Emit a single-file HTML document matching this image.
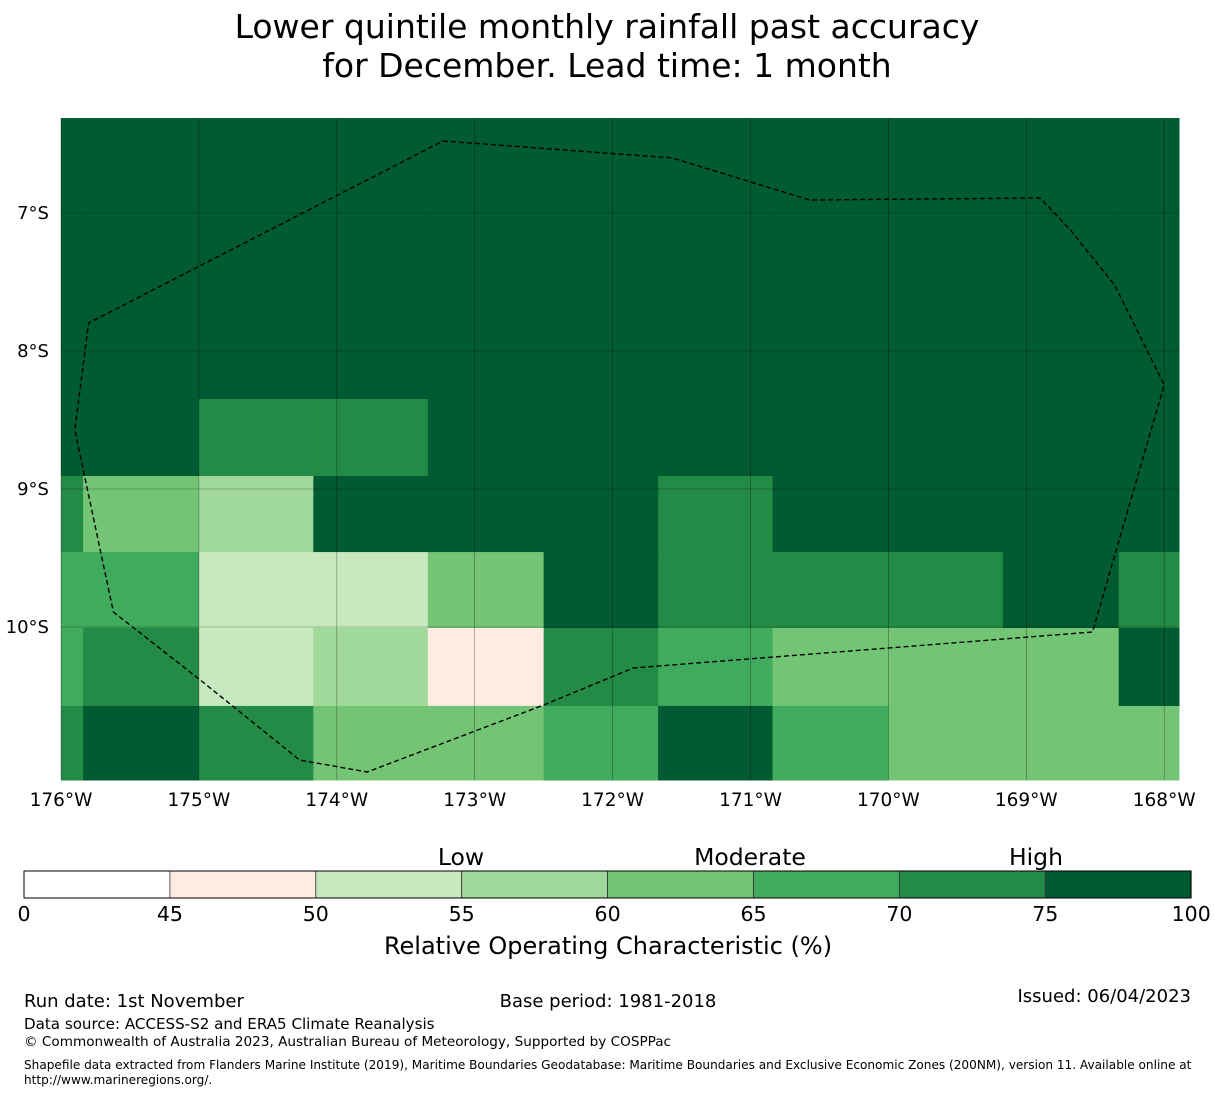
<!DOCTYPE html>
<html><head><meta charset="utf-8"><style>
html,body{margin:0;padding:0;background:#fff}
body{width:1215px;height:1095px;overflow:hidden;font-family:"DejaVu Sans","Liberation Sans",sans-serif}
svg text{font-family:"DejaVu Sans","Liberation Sans",sans-serif}
</style></head><body>
<svg id="chart" width="1215" height="1095" xmlns="http://www.w3.org/2000/svg">
<text x="607" y="38" font-size="33" text-anchor="middle">Lower quintile monthly rainfall past accuracy</text>
<text x="607" y="77" font-size="33" text-anchor="middle">for December. Lead time: 1 month</text>
<g id="cells"></g>
<g id="grid"></g>
<g id="eez"></g>
<g id="axes"></g>
<g id="cbar"></g>
<text x="461" y="865" font-size="23.5" text-anchor="middle">Low</text>
<text x="750" y="865" font-size="23.5" text-anchor="middle">Moderate</text>
<text x="1036" y="865" font-size="23.5" text-anchor="middle">High</text>
<text x="608" y="954" font-size="24" text-anchor="middle">Relative Operating Characteristic (%)</text>
<text x="24" y="1007" font-size="18">Run date: 1st November</text>
<text x="608" y="1007" font-size="18" text-anchor="middle">Base period: 1981-2018</text>
<text x="1191" y="1002" font-size="18" text-anchor="end">Issued: 06/04/2023</text>
<text x="24" y="1029" font-size="15.1">Data source: ACCESS-S2 and ERA5 Climate Reanalysis</text>
<text x="24" y="1046" font-size="13.6">© Commonwealth of Australia 2023, Australian Bureau of Meteorology, Supported by COSPPac</text>
<text x="24" y="1069" font-size="12.1">Shapefile data extracted from Flanders Marine Institute (2019), Maritime Boundaries Geodatabase: Maritime Boundaries and Exclusive Economic Zones (200NM), version 11. Available online at</text>
<text x="24" y="1084" font-size="12.1">http://www.marineregions.org/.</text>
</svg>
<script>
const lonEdges=[-176,-175.84,-175.0,-174.17,-173.34,-172.5,-171.67,-170.84,-170.0,-169.17,-168.33,-167.89];
const latEdges=[6.31,8.348,8.906,9.457,10.007,10.572,11.11];
const cellLevels=[
[7,7,7,7,7,7,7,7,7,7,7],
[7,7,6,6,7,7,7,7,7,7,7],
[6,4,3,7,7,7,6,7,7,7,7],
[5,5,2,2,4,7,6,6,6,7,6],
[5,6,2,3,1,6,5,4,4,4,7],
[6,7,6,4,4,5,7,5,4,4,4]];
const levelColors=['#ffffff','#feebe2','#c7e9c0','#a1d99b','#74c476','#41ab5d','#238b45','#005a32'];
const cbarBounds=[0,45,50,55,60,65,70,75,100];
const lonTicks=[-176,-175,-174,-173,-172,-171,-170,-169,-168];
const latTicks=[7,8,9,10];
const eezLon=[-173.23,-171.57,-170.57,-168.90,-168.68,-168.36,-168.00,-168.52,-171.85,-172.50,-173.78,-174.27,-174.99,-175.62,-175.90,-175.80];
const eezLat=[6.478,6.601,6.906,6.891,7.123,7.522,8.246,10.036,10.297,10.565,11.051,10.964,10.384,9.891,8.572,7.797];
const NS='http://www.w3.org/2000/svg';
const X0=61,X1=1179,Y0=118,Y1=780;
const xs=lon=>61+(lon+176)*137.9;
const ys=lat=>213+(lat-7)*138;
function mk(tag,attrs,parent){const e=document.createElementNS(NS,tag);for(const k in attrs)e.setAttribute(k,attrs[k]);parent.appendChild(e);return e;}
const cells=document.getElementById('cells');
for(let r=0;r<cellLevels.length;r++)for(let c=0;c<cellLevels[r].length;c++){
 const x=xs(lonEdges[c]),x2=xs(lonEdges[c+1]),y=ys(latEdges[r]),y2=ys(latEdges[r+1]);
 const e=mk('rect',{x:Math.max(X0,x),y:Math.max(Y0,y),width:Math.min(X1,x2)-Math.max(X0,x)+0.5,height:Math.min(Y1,y2)-Math.max(Y0,y)+0.5,fill:levelColors[cellLevels[r][c]]},cells);
 
 
}
const grid=document.getElementById('grid'),axes=document.getElementById('axes');
lonTicks.forEach(l=>{const x=xs(l);
 const g=mk('line',{x1:x,x2:x,y1:Y0,y2:Y1,stroke:'#000','stroke-width':0.6,'stroke-opacity':0.45},grid);
 
 
 const t=mk('text',{x:x,y:806,'font-size':18.5,'text-anchor':'middle'},axes);t.textContent=(-l)+'°W';
 
 
});
latTicks.forEach(l=>{const y=ys(l);
 const g=mk('line',{x1:X0,x2:X1,y1:y,y2:y,stroke:'#000','stroke-width':0.6,'stroke-opacity':0.45},grid);
 
 
 const t=mk('text',{x:49,y:y+6,'font-size':18,'text-anchor':'end'},axes);t.textContent=l+'°S';
 
 
});
const eez=document.getElementById('eez');
const pts=eezLon.map((l,i)=>xs(l).toFixed(1)+','+ys(eezLat[i]).toFixed(1)).join(' ');
const p=mk('polygon',{points:pts,fill:'none',stroke:'#000','stroke-width':1.4,'stroke-dasharray':'5,3'},eez);


const cb=document.getElementById('cbar');
const cx=v=>24+(cbarBounds.indexOf(v))*145.9;
for(let i=0;i<cbarBounds.length-1;i++){
 const x=cx(cbarBounds[i]),x2=cx(cbarBounds[i+1]);
 const r=mk('rect',{x:x,y:871,width:x2-x,height:27,fill:levelColors[i],stroke:'#333','stroke-width':0.8},cb);
 
 
}
cbarBounds.forEach(v=>{
 const t=mk('text',{x:cx(v),y:921,'font-size':20.5,'text-anchor':'middle'},cb);t.textContent=v;
 
 
});
const fr=mk('rect',{x:24,y:871,width:1167,height:27,fill:'none',stroke:'#000','stroke-width':1},cb);


</script>
</body></html>
